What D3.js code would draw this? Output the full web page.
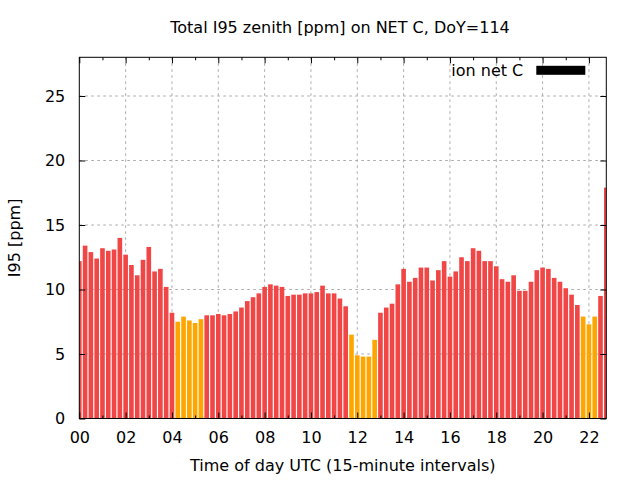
<!DOCTYPE html>
<html>
<head>
<meta charset="utf-8">
<script src="https://cdn.jsdelivr.net/npm/d3@7"></script>
<style>
  body { margin: 0; background: #fff; }
  text { font-family: "DejaVu Sans", sans-serif; fill: #000; }
</style>
</head>
<body>
<div id="chart-area"></div>
<script>
// I95 values, one per 15-minute slot starting 00:00 UTC
var values = [
    12.2, 13.4, 12.9, 12.4, 13.2, 13.0, 13.1, 14.0, 12.7, 11.9, 11.1, 12.3,
    13.3, 11.4, 11.6, 10.2, 8.2, 7.5, 7.9, 7.6, 7.4, 7.7, 8.0, 8.0,
    8.1, 8.0, 8.1, 8.3, 8.6, 9.1, 9.4, 9.7, 10.2, 10.4, 10.3, 10.2,
    9.5, 9.6, 9.6, 9.7, 9.7, 9.8, 10.3, 9.7, 9.7, 9.3, 8.7, 6.5,
    4.9, 4.8, 4.8, 6.1, 8.2, 8.6, 8.9, 10.4, 11.6, 10.6, 10.9, 11.7,
    11.7, 10.7, 11.5, 12.2, 11.0, 11.4, 12.5, 12.2, 13.2, 13.0, 12.2, 12.2,
    11.8, 10.8, 10.6, 11.1, 9.9, 9.9, 10.6, 11.5, 11.7, 11.6, 10.9, 10.6,
    10.1, 9.6, 8.8, 7.9, 7.3, 7.9, 9.5, 17.9
];
// 1 = flagged slot (drawn orange)
var flags = [
    0, 0, 0, 0, 0, 0, 0, 0, 0, 0, 0, 0,
    0, 0, 0, 0, 0, 1, 1, 1, 1, 1, 0, 0,
    0, 0, 0, 0, 0, 0, 0, 0, 0, 0, 0, 0,
    0, 0, 0, 0, 0, 0, 0, 0, 0, 0, 0, 1,
    1, 1, 1, 1, 0, 0, 0, 0, 0, 0, 0, 0,
    0, 0, 0, 0, 0, 0, 0, 0, 0, 0, 0, 0,
    0, 0, 0, 0, 0, 0, 0, 0, 0, 0, 0, 0,
    0, 0, 0, 1, 1, 1, 0, 0
];
var xTicks = [0, 2, 4, 6, 8, 10, 12, 14, 16, 18, 20, 22];
var yTicks = [0, 5, 10, 15, 20, 25];

var data = values.map((v, i) => ({ t: i * 0.25, v: v, flag: flags[i] }));

var width = 640, height = 480;
var margin = { top: 57.3, right: 33.7, bottom: 61.5, left: 79.3 };
var w = width - margin.left - margin.right;
var h = height - margin.top - margin.bottom;

var svg = d3.select("#chart-area").append("svg")
    .attr("width", width)
    .attr("height", height);

var g = svg.append("g")
    .attr("transform", "translate(" + margin.left + "," + margin.top + ")");

var x = d3.scaleLinear().domain([0, 22.75]).range([0, w]);
var y = d3.scaleLinear().domain([0, 28]).range([h, 0]);
var color = d3.scaleOrdinal().domain([0, 1]).range(["#f04646", "#ffa500"]);

svg.append("defs").append("clipPath").attr("id", "clip")
    .append("rect").attr("width", w).attr("height", h);

// grid
var grid = g.append("g").attr("stroke", "#a8a8a8").attr("stroke-dasharray", "2.5,3.5");
grid.selectAll(".gx")
    .data(xTicks.filter(d => d > 0))
    .enter().append("line")
    .attr("x1", d => x(d)).attr("x2", d => x(d))
    .attr("y1", 0).attr("y2", h);
grid.selectAll(".gy")
    .data(yTicks.filter(d => d > 0))
    .enter().append("line")
    .attr("x1", 0).attr("x2", w)
    .attr("y1", d => y(d)).attr("y2", d => y(d));

// bars
g.append("g").attr("clip-path", "url(#clip)")
    .selectAll("rect")
    .data(data)
    .enter()
    .append("rect")
    .attr("x", d => x(d.t - 0.1))
    .attr("width", x(0.2) - x(0))
    .attr("y", d => y(d.v))
    .attr("height", d => h - y(d.v))
    .attr("fill", d => color(d.flag));

// axes (ticks inward, mirrored)
var minorX = d3.range(1, 23, 2);
function styleAxis(sel) {
    sel.select(".domain").remove();
    sel.selectAll(".tick line").attr("stroke", "#000");
    sel.selectAll(".tick text").style("font-size", "16px").style("font-family", "DejaVu Sans");
}
g.append("g").attr("transform", "translate(0," + h + ")")
    .call(d3.axisBottom(x).tickValues(xTicks).tickFormat(d3.format("02d")).tickSizeInner(-6).tickPadding(13))
    .call(styleAxis);
g.append("g")
    .call(d3.axisTop(x).tickValues(xTicks).tickFormat("").tickSizeInner(-6))
    .call(styleAxis);
g.append("g").attr("transform", "translate(0," + h + ")")
    .call(d3.axisBottom(x).tickValues(minorX).tickFormat("").tickSizeInner(-3))
    .call(styleAxis);
g.append("g")
    .call(d3.axisTop(x).tickValues(minorX).tickFormat("").tickSizeInner(-3))
    .call(styleAxis);
g.append("g")
    .call(d3.axisLeft(y).tickValues(yTicks).tickSizeInner(-6).tickPadding(14))
    .call(styleAxis);
g.append("g").attr("transform", "translate(" + w + ",0)")
    .call(d3.axisRight(y).tickValues(yTicks).tickFormat("").tickSizeInner(-6))
    .call(styleAxis);

// frame
g.append("rect")
    .attr("width", w).attr("height", h)
    .attr("fill", "none").attr("stroke", "#000").attr("stroke-width", 1);

// legend
var legend = g.append("g").attr("transform", "translate(" + (w - 70) + ",13)");
legend.append("rect").attr("x", 0).attr("y", -4.5).attr("width", 49).attr("height", 9).attr("fill", "#000");
legend.append("text").attr("x", -13).attr("y", 5.5).attr("text-anchor", "end")
    .style("font-size", "16px").text("ion net C");

// titles
svg.append("text").attr("x", 340).attr("y", 33).attr("text-anchor", "middle")
    .style("font-size", "16px").text("Total I95 zenith [ppm] on NET C, DoY=114");
svg.append("text").attr("x", margin.left + w / 2).attr("y", 471).attr("text-anchor", "middle")
    .style("font-size", "16px").text("Time of day UTC (15-minute intervals)");
svg.append("text")
    .attr("transform", "translate(20," + (margin.top + h / 2) + ") rotate(-90)")
    .attr("text-anchor", "middle")
    .style("font-size", "16px").text("I95 [ppm]");
</script>
</body>
</html>
